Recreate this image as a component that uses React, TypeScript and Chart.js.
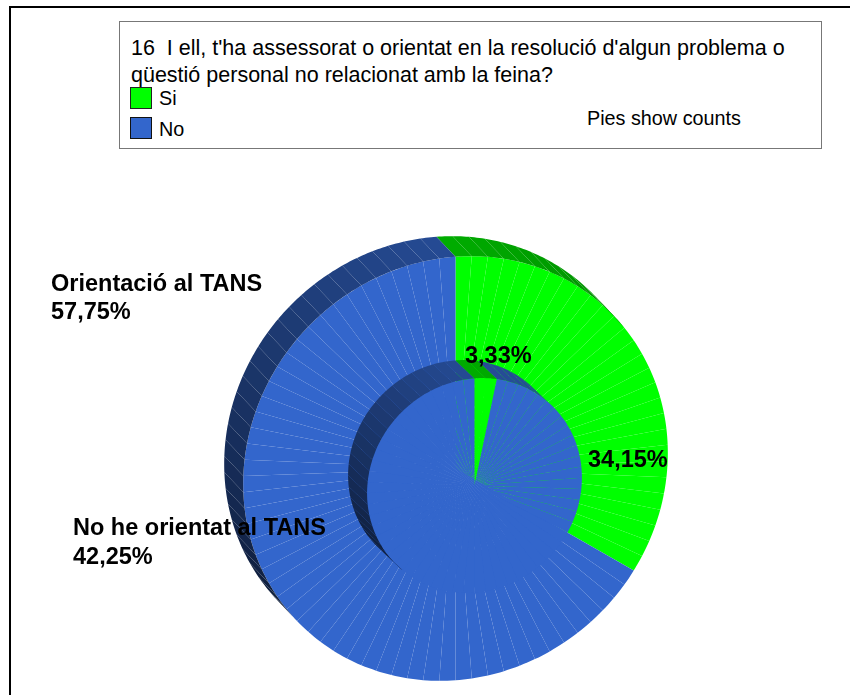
import React, { useEffect, useRef } from "react";
import { Chart, registerables } from "chart.js";

Chart.register(...registerables);

const titleLines = [
  "16  I ell, t'ha assessorat o orientat en la resolució d'algun problema o",
  "qüestió personal no relacionat amb la feina?",
];
const legendLabels = ["Si", "No"];
const noteText = "Pies show counts";
const outerLabel = ["Orientació al TANS", "57,75%"];
const lowerLabel = ["No he orientat al TANS", "42,25%"];
const innerPctLabel = "3,33%";
const outerPctLabel = "34,15%";

// Every respondent is one slice: 82 in the large pie, 60 in the small one.
const outerSi = [1, 1, 1, 1, 1, 1, 1, 1, 1, 1, 1, 1, 1, 1, 1, 1, 1, 1, 1, 1, 1, 1, 1, 1, 1, 1, 1, 1];
const outerNo = [
  1, 1, 1, 1, 1, 1, 1, 1, 1, 1, 1, 1, 1, 1, 1, 1, 1, 1, 1, 1, 1, 1, 1, 1, 1, 1, 1,
  1, 1, 1, 1, 1, 1, 1, 1, 1, 1, 1, 1, 1, 1, 1, 1, 1, 1, 1, 1, 1, 1, 1, 1, 1, 1, 1,
];
const innerSi = [1, 1];
const innerNo = [
  1, 1, 1, 1, 1, 1, 1, 1, 1, 1, 1, 1, 1, 1, 1, 1, 1, 1, 1, 1, 1, 1, 1, 1, 1, 1, 1, 1, 1,
  1, 1, 1, 1, 1, 1, 1, 1, 1, 1, 1, 1, 1, 1, 1, 1, 1, 1, 1, 1, 1, 1, 1, 1, 1, 1, 1, 1, 1,
];

const GREEN = "#00ff00";
const BLUE = "#3366cc";
const FONT = '"Liberation Sans", Arial, sans-serif';

// Tilt of the pie disc: stretched along the NE-SW diagonal, squashed along NW-SE.
const STRETCH = 1.035;
const SQUASH = 0.962;
const S = (STRETCH + SQUASH) / 2;
const D = (SQUASH - STRETCH) / 2;
const ROTATION = -2.1;

function mix(a: number[], b: number[], t: number) {
  const c = a.map((v, i) => Math.round(v + (b[i] - v) * t));
  return `rgb(${c[0]},${c[1]},${c[2]})`;
}

// Side colour of the extruded pie: lit at the top, dark towards the lower left.
function sideColour(isGreen: boolean, angle: number) {
  const mid = ((angle % (Math.PI * 2)) + Math.PI * 2) % (Math.PI * 2);
  if (isGreen) return mix([0, 172, 0], [0, 120, 0], Math.min(1, mid / (Math.PI / 2)));
  if (mid < Math.PI) return "rgb(38,76,150)";
  const ccw = (Math.PI * 2 - mid) / (Math.PI * 0.75);
  return mix([38, 76, 150], [14, 28, 56], Math.max(0, Math.min(1, ccw)));
}

// Tilts the library's arcs and draws the side wall from the laid-out elements.
function tiltPlugin(dx: number, dy: number, greenCount: number) {
  return {
    id: "tiltAndWall",
    beforeDatasetsDraw(chart: any) {
      const ctx = chart.ctx as CanvasRenderingContext2D;
      const a0 = chart.getDatasetMeta(0).data[0];
      ctx.save();
      ctx.translate(a0.x, a0.y);
      ctx.transform(S, D, D, S, 0, 0);
      ctx.translate(-a0.x, -a0.y);
    },
    afterDatasetsDraw(chart: any) {
      const ctx = chart.ctx as CanvasRenderingContext2D;
      ctx.restore();
      const arcs = chart.getDatasetMeta(0).data as any[];
      const a0 = arcs[0];
      ctx.save();
      ctx.beginPath();
      ctx.rect(0, 0, chart.width, chart.height);
      ctx.ellipse(
        a0.x,
        a0.y,
        a0.outerRadius * STRETCH - 0.6,
        a0.outerRadius * SQUASH - 0.6,
        -Math.PI / 4,
        0,
        Math.PI * 2
      );
      ctx.clip("evenodd");
      arcs.forEach((arc, i) => {
        const { x, y, startAngle, endAngle, outerRadius: r } = arc;
        // Only the part of the wall that faces the viewer is visible.
        const faces = (t: number) => Math.cos(t) * dx + Math.sin(t) * dy > 0;
        if (!faces(startAngle) && !faces(endAngle)) return;
        const pts: number[][] = [];
        for (let k = 0; k <= 6; k++) {
          const t = startAngle + ((endAngle - startAngle) * k) / 6;
          const px = r * Math.cos(t);
          const py = r * Math.sin(t);
          pts.push([x + S * px + D * py, y + D * px + S * py]);
        }
        ctx.beginPath();
        pts.forEach((p, k) => (k ? ctx.lineTo(p[0], p[1]) : ctx.moveTo(p[0], p[1])));
        [...pts].reverse().forEach((p) => ctx.lineTo(p[0] + dx, p[1] + dy));
        ctx.closePath();
        ctx.fillStyle = sideColour(i < greenCount, (startAngle + endAngle) / 2 + Math.PI / 2);
        ctx.fill();
      });
      ctx.restore();
    },
  };
}

function makePie(canvas: HTMLCanvasElement, si: number[], no: number[], dx: number, dy: number) {
  const colours = [...si.map(() => GREEN), ...no.map(() => BLUE)];
  return new Chart(canvas, {
    type: "pie",
    data: {
      labels: [...si.map(() => legendLabels[0]), ...no.map(() => legendLabels[1])],
      datasets: [{ data: [...si, ...no], backgroundColor: colours, borderWidth: 0, clip: false }],
    },
    options: {
      responsive: false,
      animation: false,
      rotation: ROTATION,
      layout: { padding: 30 },
      plugins: { legend: { display: false }, title: { display: false }, tooltip: { enabled: false } },
    },
    plugins: [tiltPlugin(dx, dy, si.length)],
  } as any);
}

const abs = (left: number, top: number): React.CSSProperties => ({
  position: "absolute",
  left,
  top,
  whiteSpace: "pre",
  color: "#000",
});

export default function App() {
  const outerRef = useRef<HTMLCanvasElement>(null);
  const innerRef = useRef<HTMLCanvasElement>(null);

  useEffect(() => {
    const a = makePie(outerRef.current!, outerSi, outerNo, -19, -20);
    const b = makePie(innerRef.current!, innerSi, innerNo, -19, -18);
    return () => {
      a.destroy();
      b.destroy();
    };
  }, []);

  const boldLabel: React.CSSProperties = { font: `bold 23.5px/27px ${FONT}` };
  const titleFont: React.CSSProperties = { font: `21.5px/27px ${FONT}` };
  const smallFont: React.CSSProperties = { font: `19.8px/20px ${FONT}` };

  return (
    <div
      style={{
        position: "absolute",
        left: 0,
        top: 0,
        width: 850,
        height: 695,
        overflow: "hidden",
        background: "#fff",
        fontFamily: FONT,
      }}
    >
      <div style={{ position: "absolute", left: 9, top: 6, width: 841, height: 2, background: "#000" }} />
      <div style={{ position: "absolute", left: 9, top: 6, width: 2, height: 689, background: "#000" }} />

      <div style={{ position: "absolute", left: 119, top: 21, width: 701, height: 126, border: "1px solid #777" }} />
      <div style={{ ...abs(131, 35), ...titleFont }}>{titleLines[0]}</div>
      <div style={{ ...abs(131, 62), ...titleFont }}>{titleLines[1]}</div>
      <div style={{ position: "absolute", left: 130, top: 87, width: 20, height: 20, background: GREEN, border: "1px solid #222" }} />
      <div style={{ position: "absolute", left: 130, top: 117, width: 20, height: 20, background: BLUE, border: "1px solid #111" }} />
      <div style={{ ...abs(159, 88), ...smallFont }}>{legendLabels[0]}</div>
      <div style={{ ...abs(159, 119), ...smallFont }}>{legendLabels[1]}</div>
      <div style={{ ...abs(587, 108), ...smallFont }}>{noteText}</div>

      <canvas ref={outerRef} width={485} height={485} style={{ position: "absolute", left: 213, top: 226 }} />
      <canvas ref={innerRef} width={275} height={275} style={{ position: "absolute", left: 337, top: 348 }} />

      <div style={{ ...abs(51, 270), ...boldLabel }}>{outerLabel[0]}</div>
      <div style={{ ...abs(51, 298), ...boldLabel }}>{outerLabel[1]}</div>
      <div style={{ ...abs(73, 514), ...boldLabel }}>{lowerLabel[0]}</div>
      <div style={{ ...abs(73, 543), ...boldLabel }}>{lowerLabel[1]}</div>
      <div style={{ ...abs(465, 342), ...boldLabel }}>{innerPctLabel}</div>
      <div style={{ ...abs(588, 446), ...boldLabel }}>{outerPctLabel}</div>
    </div>
  );
}
